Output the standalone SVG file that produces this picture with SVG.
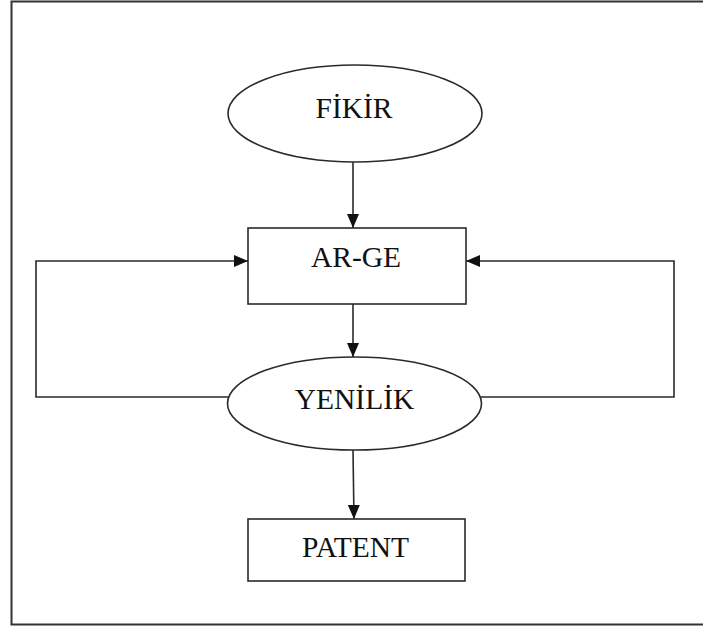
<svg xmlns="http://www.w3.org/2000/svg" width="703" height="628" viewBox="0 0 703 628">
  <style>
    .shape { fill: #ffffff; stroke: #2a2a2a; stroke-width: 1.6; }
    .conn { fill: none; stroke: #2a2a2a; stroke-width: 1.6; }
    .label { font-family: "Liberation Serif", "Times New Roman", serif; font-size: 29.5px; fill: #111111; text-anchor: middle; }
  </style>
  <defs>
    <marker id="arrow" markerUnits="userSpaceOnUse" markerWidth="14" markerHeight="12" refX="14" refY="6" orient="auto">
      <path d="M0,0 L14,6 L0,12 Z" fill="#111111"/>
    </marker>
  </defs>
  <rect x="11.5" y="1.5" width="710" height="623" fill="#ffffff" stroke="#333333" stroke-width="2"/>
  <g id="connectors">
    <line class="conn" x1="353" y1="162" x2="353" y2="228" marker-end="url(#arrow)"/>
    <line class="conn" x1="353" y1="304" x2="353" y2="357" marker-end="url(#arrow)"/>
    <line class="conn" x1="353" y1="450" x2="354" y2="519" marker-end="url(#arrow)"/>
    <polyline class="conn" points="229,397 36,397 36,261 248,261" marker-end="url(#arrow)"/>
    <polyline class="conn" points="480,397 674,397 674,261 466,261" marker-end="url(#arrow)"/>
  </g>
  <g id="fikir">
    <ellipse class="shape" cx="355" cy="113.5" rx="127" ry="48.5"/>
    <text class="label" x="354" y="118">FİKİR</text>
  </g>
  <g id="arge">
    <rect class="shape" x="248" y="228" width="218" height="76"/>
    <text class="label" x="356" y="267">AR-GE</text>
  </g>
  <g id="yenilik">
    <ellipse class="shape" cx="354.5" cy="403.5" rx="127" ry="46.5"/>
    <text class="label" x="354.5" y="409">YENİLİK</text>
  </g>
  <g id="patent">
    <rect class="shape" x="248" y="519" width="217" height="62"/>
    <text class="label" x="355.5" y="557">PATENT</text>
  </g>
</svg>
